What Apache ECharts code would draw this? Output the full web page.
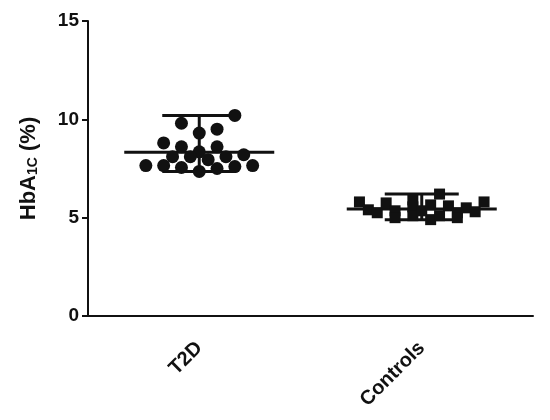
<!DOCTYPE html>
<html>
<head>
<meta charset="utf-8">
<script src="https://cdn.jsdelivr.net/npm/echarts@6/dist/echarts.min.js"></script>
<style>
  html, body { margin: 0; padding: 0; background: #fff; }
  #box1 { width: 550px; height: 420px; }
</style>
</head>
<body>
<div id="box1"></div>
<script>
// groups on the x axis
var groups = ['T2D', 'Controls'];

// HbA1c values, with the column slot each dot sits in
var t2dValues = [10.2, 9.8, 9.5, 9.3, 8.8, 8.6, 8.6, 8.35, 8.1, 8.1, 7.95, 8.1, 8.2, 7.65, 7.65, 7.65, 7.55, 7.35, 7.5, 7.6];
var t2dSlots  = [4, -2, 2, 0, -4, -2, 2, 0, -3, -1, 1, 3, 5, -6, -4, 6, -2, 0, 2, 4];

var ctrlValues = [5.8, 5.4, 5.25, 5.75, 5.35, 5.0, 5.9, 5.55, 5.1, 4.9, 5.35, 6.2, 5.65, 5.1, 5.6, 5.25, 5.0, 5.5, 5.3, 5.8];
var ctrlSlots  = [-7, -6, -5, -4, -3, -3, -1, -1, -1, 1, 0, 2, 1, 2, 3, 4, 4, 5, 6, 7];

var yTicks = [0, 5, 10, 15];

var slotStep = 0.04;

function toPoints(values, slots, gi) {
  return values.map(function(v, i) {
    return [gi + 0.5 + slots[i] * slotStep, v];
  });
}

function summary(values, gi) {
  var sum = 0;
  values.forEach(function(v) { sum += v; });
  return [gi + 0.5, sum / values.length, Math.min.apply(null, values), Math.max.apply(null, values)];
}

var statsData = [summary(t2dValues, 0), summary(ctrlValues, 1)];

var chart = echarts.init(document.getElementById('box1'));

var font = '"Liberation Sans", Arial, sans-serif';

var option = {
  animation: false,
  backgroundColor: '#fff',
  grid: { left: 88, right: 17, top: 21, bottom: 104 },
  xAxis: [{
    type: 'category',
    data: groups,
    boundaryGap: true,
    axisLine: { lineStyle: { color: '#111', width: 2 } },
    axisTick: { alignWithLabel: true, length: 6, lineStyle: { color: '#111', width: 2 } },
    axisLabel: {
      rotate: 45, margin: 29, color: '#111', fontFamily: font,
      fontWeight: 'bold', fontSize: 20
    },
    splitLine: { show: false }
  }, {
    type: 'value', min: 0, max: 2, show: false
  }],
  yAxis: {
    type: 'value',
    min: yTicks[0],
    max: yTicks[yTicks.length - 1],
    interval: 5,
    name: '{a|HbA}{s|1C}{a| (%)}',
    nameLocation: 'middle',
    nameGap: 48,
    nameTextStyle: {
      rich: {
        a: { fontFamily: font, fontWeight: 'bold', fontSize: 22, color: '#111' },
        s: { fontFamily: font, fontWeight: 'bold', fontSize: 14, color: '#111', verticalAlign: 'bottom', padding: [7, 0, 0, 0] }
      }
    },
    axisLine: { show: true, lineStyle: { color: '#111', width: 2 } },
    axisTick: { show: true, length: 6, lineStyle: { color: '#111', width: 2 } },
    axisLabel: { margin: 9, color: '#111', fontFamily: font, fontWeight: 'bold', fontSize: 19 },
    splitLine: { show: false }
  },
  series: [{
    type: 'custom',
    xAxisIndex: 1,
    data: statsData,
    z: 1,
    renderItem: function(params, api) {
      var x = api.value(0);
      var c = api.coord([x, api.value(1)]);
      var lo = api.coord([x, api.value(2)]);
      var hi = api.coord([x, api.value(3)]);
      var st = { stroke: '#111', lineWidth: 3 };
      return {
        type: 'group',
        children: [
          { type: 'line', shape: { x1: c[0] - 75, y1: c[1], x2: c[0] + 75, y2: c[1] }, style: st },
          { type: 'line', shape: { x1: hi[0], y1: hi[1], x2: lo[0], y2: lo[1] }, style: st },
          { type: 'line', shape: { x1: hi[0] - 37, y1: hi[1], x2: hi[0] + 37, y2: hi[1] }, style: st },
          { type: 'line', shape: { x1: lo[0] - 37, y1: lo[1], x2: lo[0] + 37, y2: lo[1] }, style: st }
        ]
      };
    }
  }, {
    name: 'T2D',
    type: 'scatter',
    xAxisIndex: 1,
    symbol: 'circle',
    symbolSize: 13,
    itemStyle: { color: '#111', opacity: 1 },
    z: 2,
    data: toPoints(t2dValues, t2dSlots, 0)
  }, {
    name: 'Controls',
    type: 'scatter',
    xAxisIndex: 1,
    symbol: 'rect',
    symbolSize: 11,
    itemStyle: { color: '#111', opacity: 1 },
    z: 2,
    data: toPoints(ctrlValues, ctrlSlots, 1)
  }]
};
chart.setOption(option);
</script>
</body>
</html>
